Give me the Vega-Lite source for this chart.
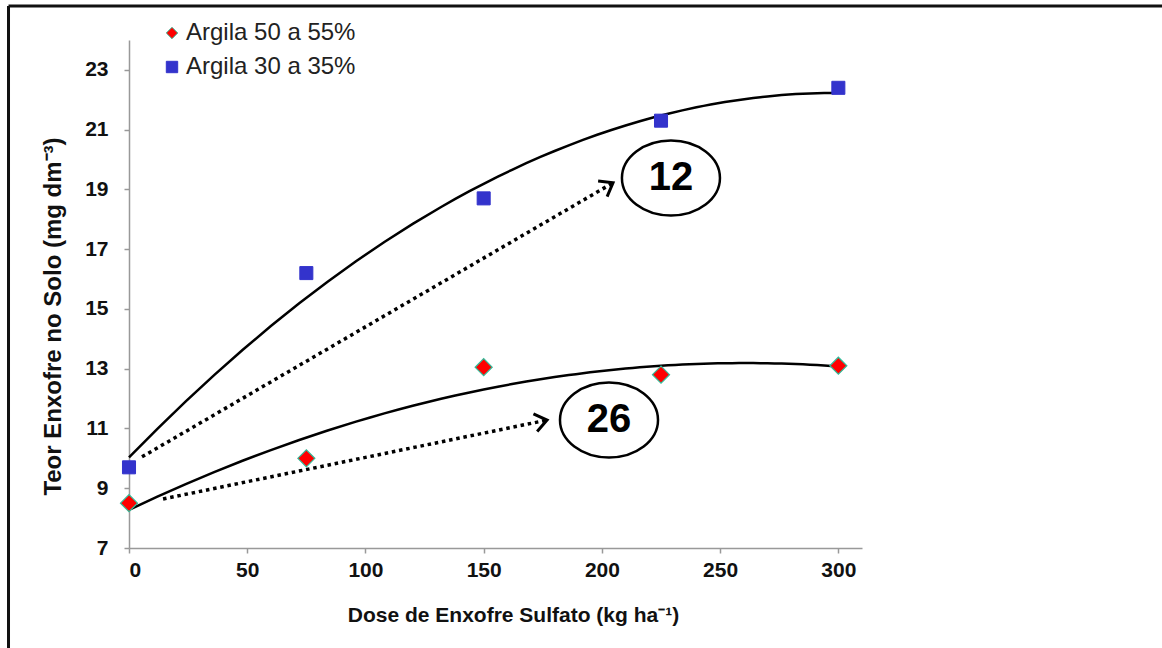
{
  "$schema": "https://vega.github.io/schema/vega-lite/v6.json",
  "width": 733,
  "height": 508,
  "autosize": {"type": "none"},
  "padding": {"left": 129, "top": 40, "right": 300, "bottom": 100},
  "background": "white",
  "config": {
    "view": {"stroke": null},
    "font": "Liberation Sans",
    "legend": {
      "orient": "none",
      "legendX": 31,
      "legendY": -19,
      "title": null,
      "labelFont": "Liberation Sans",
      "labelFontSize": 24,
      "labelColor": "#222222",
      "labelLimit": 400,
      "symbolSize": 130,
      "symbolStrokeWidth": 1,
      "rowPadding": 10,
      "padding": 0,
      "labelOffset": 2
    }
  },
  "datasets": {
    "points": [
      {"series": "Argila 50 a 55%", "Dose": 0, "Teor": 8.5},
      {"series": "Argila 50 a 55%", "Dose": 75, "Teor": 10.0},
      {"series": "Argila 50 a 55%", "Dose": 150, "Teor": 13.05},
      {"series": "Argila 50 a 55%", "Dose": 225, "Teor": 12.8},
      {"series": "Argila 50 a 55%", "Dose": 300, "Teor": 13.1},
      {"series": "Argila 30 a 35%", "Dose": 0, "Teor": 9.7},
      {"series": "Argila 30 a 35%", "Dose": 75, "Teor": 16.2},
      {"series": "Argila 30 a 35%", "Dose": 150, "Teor": 18.7},
      {"series": "Argila 30 a 35%", "Dose": 225, "Teor": 21.3},
      {"series": "Argila 30 a 35%", "Dose": 300, "Teor": 22.4}
    ],
    "arrows": [
      {"arrow": "12", "part": "start", "Dose": 5.5, "Teor": 10.05},
      {"arrow": "12", "part": "end", "Dose": 204.7, "Teor": 19.22},
      {"arrow": "26", "part": "start", "Dose": 14.4, "Teor": 8.64},
      {"arrow": "26", "part": "end", "Dose": 176.8, "Teor": 11.28}
    ],
    "labels": [
      {"label": "12", "Dose": 229.2, "Teor": 19.38},
      {"label": "26", "Dose": 203.0, "Teor": 11.28}
    ]
  },
  "layer": [
    {
      "data": {"values": [{"frame": "left"}]},
      "mark": {"type": "rule", "color": "#111111", "strokeWidth": 3, "clip": false},
      "encoding": {
        "x": {"datum": -50.96, "type": "quantitative"},
        "y": {"datum": 25.14, "type": "quantitative"},
        "y2": {"datum": 3.5}
      }
    },
    {
      "data": {"values": [{"frame": "top"}]},
      "mark": {"type": "rule", "color": "#111111", "strokeWidth": 3, "clip": false},
      "encoding": {
        "y": {"datum": 25.14, "type": "quantitative"},
        "x": {"datum": -50.96, "type": "quantitative"},
        "x2": {"datum": 440}
      }
    },
    {
      "data": {"name": "points"},
      "transform": [
        {"regression": "Teor", "on": "Dose", "groupby": ["series"], "method": "poly", "order": 2, "extent": [0, 300]}
      ],
      "mark": {"type": "line", "color": "#000000", "strokeWidth": 2.5},
      "encoding": {
        "x": {
          "field": "Dose",
          "type": "quantitative",
          "scale": {"domain": [0, 310], "nice": false, "zero": false},
          "axis": {
            "values": [0, 50, 100, 150, 200, 250, 300],
            "grid": false,
            "domainColor": "#999999",
            "domainWidth": 1.5,
            "tickColor": "#999999",
            "tickWidth": 1.5,
            "tickSize": 5,
            "labelFont": "Liberation Sans",
            "labelFontSize": 21,
            "labelFontWeight": "bold",
            "labelColor": "#111111",
            "labelPadding": 6,
            "title": "Dose de Enxofre Sulfato (kg ha⁻¹)",
            "titleFont": "Liberation Sans",
            "titleFontSize": 21,
            "titleFontWeight": "bold",
            "titleColor": "#111111",
            "titleX": 384,
            "titleY": 67,
            "titleBaseline": "middle"
          }
        },
        "y": {
          "field": "Teor",
          "type": "quantitative",
          "scale": {"domain": [7, 24], "nice": false, "zero": false},
          "axis": {
            "values": [7, 9, 11, 13, 15, 17, 19, 21, 23],
            "grid": false,
            "domainColor": "#999999",
            "domainWidth": 1.5,
            "tickColor": "#999999",
            "tickWidth": 1.5,
            "tickSize": 5,
            "labelFont": "Liberation Sans",
            "labelFontSize": 21,
            "labelFontWeight": "bold",
            "labelColor": "#111111",
            "labelPadding": 16,
            "title": "Teor Enxofre no Solo (mg dm⁻³)",
            "titleFont": "Liberation Sans",
            "titleFontSize": 24,
            "titleFontWeight": "bold",
            "titleColor": "#111111",
            "titleX": -76,
            "titleY": 276,
            "titleBaseline": "middle"
          }
        },
        "detail": {"field": "series"}
      }
    },
    {
      "data": {"name": "arrows"},
      "mark": {"type": "line", "color": "#000000", "strokeWidth": 3.5, "strokeDash": [3.5, 3.8]},
      "encoding": {
        "x": {"field": "Dose", "type": "quantitative"},
        "y": {"field": "Teor", "type": "quantitative"},
        "detail": {"field": "arrow"}
      }
    },
    {
      "data": {"name": "arrows"},
      "transform": [{"filter": "datum.arrow == '12' && datum.part == 'end'"}],
      "mark": {"type": "point", "shape": "M-1,-0.75 L0,0 L-1,0.75", "size": 576, "filled": false, "stroke": "#000000", "strokeWidth": 3, "angle": -30, "opacity": 1},
      "encoding": {
        "x": {"field": "Dose", "type": "quantitative"},
        "y": {"field": "Teor", "type": "quantitative"}
      }
    },
    {
      "data": {"name": "arrows"},
      "transform": [{"filter": "datum.arrow == '26' && datum.part == 'end'"}],
      "mark": {"type": "point", "shape": "M-1,-0.75 L0,0 L-1,0.75", "size": 576, "filled": false, "stroke": "#000000", "strokeWidth": 3, "angle": -12, "opacity": 1},
      "encoding": {
        "x": {"field": "Dose", "type": "quantitative"},
        "y": {"field": "Teor", "type": "quantitative"}
      }
    },
    {
      "data": {"name": "labels"},
      "mark": {"type": "point", "shape": "M-1.307,0 C-1.307,-0.552 -0.722,-1 0,-1 C0.722,-1 1.307,-0.552 1.307,0 C1.307,0.552 0.722,1 0,1 C-0.722,1 -1.307,0.552 -1.307,0 Z", "size": 5625, "filled": false, "stroke": "#000000", "strokeWidth": 2.5, "opacity": 1},
      "encoding": {
        "x": {"field": "Dose", "type": "quantitative"},
        "y": {"field": "Teor", "type": "quantitative"}
      }
    },
    {
      "data": {"name": "labels"},
      "mark": {"type": "text", "font": "Liberation Sans", "fontSize": 40, "fontWeight": "bold", "align": "center", "baseline": "middle", "color": "#000000"},
      "encoding": {
        "x": {"field": "Dose", "type": "quantitative"},
        "y": {"field": "Teor", "type": "quantitative"},
        "text": {"field": "label"}
      }
    },
    {
      "data": {"name": "points"},
      "transform": [{"filter": "datum.series == 'Argila 50 a 55%'"}],
      "mark": {"type": "point", "filled": true, "size": 290, "strokeWidth": 1.2, "opacity": 1},
      "encoding": {
        "x": {"field": "Dose", "type": "quantitative"},
        "y": {"field": "Teor", "type": "quantitative"},
        "color": {"field": "series", "type": "nominal", "scale": {"domain": ["Argila 50 a 55%", "Argila 30 a 35%"], "range": ["#ff0000", "#3333cc"]}},
        "shape": {"field": "series", "type": "nominal", "scale": {"domain": ["Argila 50 a 55%", "Argila 30 a 35%"], "range": ["diamond", "square"]}},
        "stroke": {"field": "series", "type": "nominal", "scale": {"domain": ["Argila 50 a 55%", "Argila 30 a 35%"], "range": ["#33bb99", "#3333cc"]}}
      }
    },
    {
      "data": {"name": "points"},
      "transform": [{"filter": "datum.series == 'Argila 30 a 35%'"}],
      "mark": {"type": "point", "filled": true, "size": 170, "strokeWidth": 1, "opacity": 1},
      "encoding": {
        "x": {"field": "Dose", "type": "quantitative"},
        "y": {"field": "Teor", "type": "quantitative"},
        "color": {"field": "series", "type": "nominal"},
        "shape": {"field": "series", "type": "nominal"},
        "stroke": {"field": "series", "type": "nominal"}
      }
    }
  ]
}
